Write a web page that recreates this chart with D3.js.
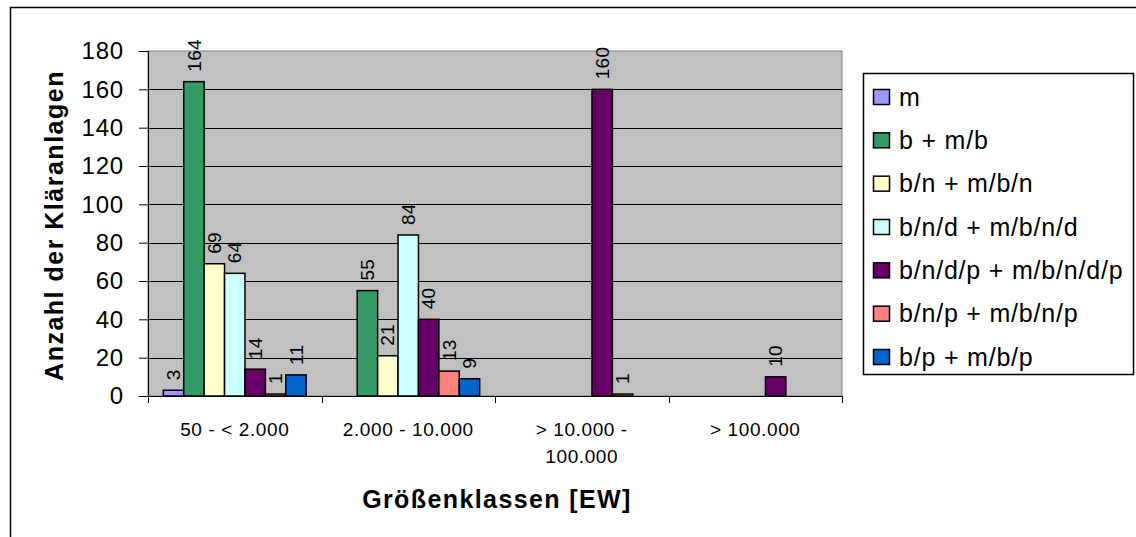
<!DOCTYPE html>
<html>
<head>
<meta charset="utf-8">
<script src="https://d3js.org/d3.v7.min.js"></script>
<style>
  body { margin: 0; background: #fff; }
  svg { display: block; font-family: "Liberation Sans", Arial, sans-serif; }
</style>
</head>
<body>
<div id="chart"></div>
<script>
// categories (Größenklassen) and one value list per series
const categories = ["50 - < 2.000", "2.000 - 10.000", "> 10.000 - 100.000", "> 100.000"];
const categoryLines = [["50 - < 2.000"], ["2.000 - 10.000"], ["> 10.000 -", "100.000"], ["> 100.000"]];

const seriesNames = [
  "m",
  "b + m/b",
  "b/n + m/b/n",
  "b/n/d + m/b/n/d",
  "b/n/d/p + m/b/n/d/p",
  "b/n/p + m/b/n/p",
  "b/p + m/b/p"
];
const seriesColors = ["#9999FF", "#339966", "#FFFFCC", "#CCFFFF", "#660066", "#FF8080", "#0066CC"];

const valsM        = [3, null, null, null];
const valsB        = [164, 55, null, null];
const valsBN       = [69, 21, null, null];
const valsBND      = [64, 84, null, null];
const valsBNDP     = [14, 40, 160, 10];
const valsBNP      = [1, 13, 1, null];
const valsBP       = [11, 9, null, null];
const seriesValues = [valsM, valsB, valsBN, valsBND, valsBNDP, valsBNP, valsBP];

const yTicks = [0, 20, 40, 60, 80, 100, 120, 140, 160, 180];

const width = 1136, height = 537;
const plot = { left: 148, right: 842, top: 51, bottom: 396 };

const svg = d3.select("#chart").append("svg")
  .attr("width", width)
  .attr("height", height);

// outer chart frame (runs off the right and bottom of the picture)
svg.append("rect")
  .attr("x", 10.5).attr("y", 7.5)
  .attr("width", 1200).attr("height", 600)
  .attr("fill", "#fff")
  .attr("stroke", "#000")
  .attr("stroke-width", 1.5);

const x0 = d3.scaleBand().domain(categories).range([plot.left, plot.right]).padding(0);
const x1 = d3.scaleBand().domain(seriesNames).range([0, x0.bandwidth()])
  .paddingInner(0).paddingOuter(0.75);
const y = d3.scaleLinear().domain([0, 180]).range([plot.bottom, plot.top]);

// plot area
svg.append("rect")
  .attr("x", plot.left).attr("y", plot.top)
  .attr("width", plot.right - plot.left).attr("height", plot.bottom - plot.top)
  .attr("fill", "#C0C0C0")
  .attr("stroke", "#808080");

// gridlines
svg.append("g")
  .selectAll("line")
  .data(yTicks.filter(d => d > 0 && d < 180))
  .enter().append("line")
  .attr("x1", plot.left).attr("x2", plot.right)
  .attr("y1", d => Math.round(y(d)) + 0.5).attr("y2", d => Math.round(y(d)) + 0.5)
  .attr("stroke", "#000");

// y axis
const yAxis = svg.append("g")
  .attr("transform", `translate(${plot.left},0)`)
  .call(d3.axisLeft(y).tickValues(yTicks).tickSize(9).tickPadding(15));
yAxis.select(".domain").attr("stroke", "#000");
yAxis.selectAll("text")
  .attr("font-size", 24)
  .attr("letter-spacing", 0.8)
  .attr("fill", "#000")
  .attr("font-family", "Liberation Sans, Arial, sans-serif");

// x axis line and ticks at category boundaries
const boundaries = categories.map(c => x0(c)).concat([plot.right]);
svg.append("line")
  .attr("x1", plot.left).attr("x2", plot.right)
  .attr("y1", plot.bottom + 0.5).attr("y2", plot.bottom + 0.5)
  .attr("stroke", "#000");
svg.append("g").selectAll("line")
  .data(boundaries)
  .enter().append("line")
  .attr("x1", d => Math.round(d) + 0.5).attr("x2", d => Math.round(d) + 0.5)
  .attr("y1", plot.bottom).attr("y2", plot.bottom + 7)
  .attr("stroke", "#000");

// category labels
const catLabels = svg.append("g").selectAll("text")
  .data(categories)
  .enter().append("text")
  .attr("x", d => x0(d) + x0.bandwidth() / 2)
  .attr("y", 436)
  .attr("text-anchor", "middle")
  .attr("font-size", 19)
  .attr("letter-spacing", 0.6);
catLabels.each(function(d, i) {
  const t = d3.select(this);
  categoryLines[i].forEach((line, j) => {
    t.append("tspan")
      .attr("x", x0(d) + x0.bandwidth() / 2)
      .attr("dy", j === 0 ? 0 : 27)
      .text(line);
  });
});

// bars
const groups = svg.append("g").selectAll("g")
  .data(seriesNames)
  .enter().append("g")
  .attr("fill", (d, i) => seriesColors[i]);

groups.each(function(name, si) {
  const pts = categories.map((c, ci) => ({ c, v: seriesValues[si][ci] }))
    .filter(p => p.v !== null);
  const g = d3.select(this);
  g.selectAll("rect")
    .data(pts)
    .enter().append("rect")
    .attr("x", p => x0(p.c) + x1(name))
    .attr("y", p => y(p.v))
    .attr("width", x1.bandwidth())
    .attr("height", p => y(0) - y(p.v))
    .attr("stroke", "#000")
    .attr("stroke-width", 1.5);
  g.selectAll("text")
    .data(pts)
    .enter().append("text")
    .attr("transform", p => `translate(${x0(p.c) + x1(name) + x1.bandwidth() / 2},${y(p.v) - 10}) rotate(-90)`)
    .attr("dy", "0.35em")
    .attr("fill", "#000")
    .attr("font-size", 19)
    .attr("letter-spacing", 0.3)
    .text(p => p.v);
});

// axis titles
svg.append("text")
  .attr("transform", `translate(63,${(plot.top + plot.bottom) / 2 + 2}) rotate(-90)`)
  .attr("text-anchor", "middle")
  .attr("font-size", 25)
  .attr("font-weight", "bold")
  .attr("letter-spacing", 1.5)
  .text("Anzahl der Kläranlagen");

svg.append("text")
  .attr("x", 497)
  .attr("y", 508)
  .attr("text-anchor", "middle")
  .attr("font-size", 25)
  .attr("font-weight", "bold")
  .attr("letter-spacing", 1.4)
  .text("Größenklassen [EW]");

// legend
const legend = svg.append("g");
legend.append("rect")
  .attr("x", 863.5).attr("y", 73.5)
  .attr("width", 270).attr("height", 301)
  .attr("fill", "#fff")
  .attr("stroke", "#000")
  .attr("stroke-width", 1.5);

const rowY = d3.scalePoint().domain(seriesNames).range([97, 357]);
const items = legend.selectAll("g.item")
  .data(seriesNames)
  .enter().append("g")
  .attr("class", "item")
  .attr("transform", d => `translate(873,${rowY(d)})`);
items.append("rect")
  .attr("x", 0.5).attr("y", -7.5)
  .attr("width", 16).attr("height", 15)
  .attr("fill", (d, i) => seriesColors[i])
  .attr("stroke", "#000")
  .attr("stroke-width", 1.5);
items.append("text")
  .attr("x", 26)
  .attr("dy", "0.35em")
  .attr("font-size", 25)
  .attr("letter-spacing", 0.8)
  .text(d => d);
</script>
</body>
</html>
